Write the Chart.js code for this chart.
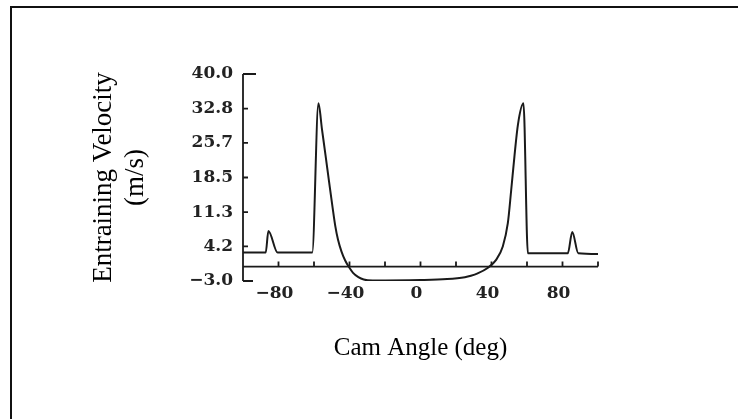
<!DOCTYPE html>
<html>
<head>
<meta charset="utf-8">
<script src="https://cdn.jsdelivr.net/npm/chart.js@4/dist/chart.umd.min.js"></script>
<style>
    body { margin: 0; background: #fff; overflow: hidden; }
    #wrap { position: relative; width: 738px; height: 419px; }
    #frame {
        position: absolute; left: 10px; top: 6px; width: 760px; height: 440px;
        border-left: 2px solid #111; border-top: 2px solid #111;
        pointer-events: none;
    }
</style>
</head>
<body>
<div id="wrap">
    <canvas id="camChart" width="738" height="419"></canvas>
    <div id="frame"></div>
</div>
<script>
// === Data ===
const camAngle = [-100, -87.2, -85.7, -80.5, -61, -57.5, -55.5, -53.5, -51.5, -49.5, -48, -46.5,
    -44.5, -42.5, -40.5, -38, -35, -32, -27, 0, 15, 25, 28.4, 32.2, 37.8, 42.6, 46.3, 49.2,
    51.1, 52.9, 54.9, 58, 60.5, 83, 85.5, 88.9, 100];
const velocity = [2.9, 2.9, 7.4, 2.9, 2.9, 33.9, 28.5, 23.1, 17.6, 12.2, 8.4, 5.6,
    3.1, 1.3, 0, -1.3, -2.2, -2.7, -2.9, -2.8, -2.6, -2.2, -1.9, -1.4, -0.3, 1.4, 4.1, 9.0,
    15.9, 22.8, 29.5, 33.9, 2.75, 2.75, 7.2, 2.75, 2.6];

const xTicks = [-100, -80, -60, -40, -20, 0, 20, 40, 60, 80, 100];
const xLabels = ['', '\u221280', '', '\u221240', '', '0', '', '40', '', '80', ''];
const yTicks = [-3.0, 4.2, 11.3, 18.5, 25.7, 32.8, 40.0];
const yLabels = ['\u22123.0', '4.2', '11.3', '18.5', '25.7', '32.8', '40.0'];

const inkColor = '#1a1a1a';
const tickFont = { family: "'DejaVu Serif', serif", size: 17, weight: 'bold' };
const titleFont = { family: "'Liberation Serif', 'Times New Roman', serif", size: 25 };

// axis line, inner ticks and the zero line with its small ticks
const axisPlugin = {
    id: 'axisLines',
    afterDatasetsDraw(chart) {
        const { ctx, chartArea: a, scales: { x, y } } = chart;
        ctx.save();
        ctx.strokeStyle = inkColor;
        ctx.lineWidth = 1.8;
        ctx.beginPath();
        ctx.moveTo(a.left, a.top);
        ctx.lineTo(a.left, a.bottom);
        y.ticks.forEach((t, i) => {
            const py = y.getPixelForValue(t.value);
            let len = 5;
            if (i === 0) len = 10;
            if (i === y.ticks.length - 1) len = 13;
            ctx.moveTo(a.left, py);
            ctx.lineTo(a.left + len, py);
        });
        const y0 = y.getPixelForValue(0);
        ctx.moveTo(a.left, y0);
        ctx.lineTo(a.right, y0);
        x.ticks.forEach(t => {
            if (t.value <= x.min) return;
            const px = x.getPixelForValue(t.value);
            ctx.moveTo(px, y0);
            ctx.lineTo(px, y0 - 5);
        });
        ctx.stroke();
        ctx.restore();
    }
};

new Chart(document.getElementById('camChart'), {
    type: 'line',
    data: {
        datasets: [{
            data: camAngle.map((a, i) => ({ x: a, y: velocity[i] })),
            borderColor: inkColor,
            borderWidth: 2,
            pointRadius: 0,
            fill: false,
            cubicInterpolationMode: 'monotone'
        }]
    },
    options: {
        responsive: false,
        animation: false,
        layout: { padding: { left: 0, top: 74, right: 140, bottom: 0 } },
        plugins: { legend: { display: false }, tooltip: { enabled: false } },
        scales: {
            x: {
                type: 'linear',
                min: -100,
                max: 100,
                grid: { display: false, drawTicks: false },
                border: { display: false },
                afterBuildTicks: s => { s.ticks = xTicks.map(v => ({ value: v })); },
                afterFit: s => { s.height = 138; },
                ticks: {
                    autoSkip: false,
                    maxRotation: 0,
                    padding: 2,
                    labelOffset: -4,
                    color: '#222',
                    font: tickFont,
                    callback: (v, i) => xLabels[i]
                },
                title: {
                    display: true,
                    text: 'Cam Angle (deg)',
                    color: '#000',
                    font: titleFont,
                    padding: { top: 0, bottom: 56 }
                }
            },
            y: {
                min: -3,
                max: 40,
                grid: { display: false, drawTicks: false },
                border: { display: false },
                afterBuildTicks: s => { s.ticks = yTicks.map(v => ({ value: v })); },
                afterFit: s => { s.width = 243; },
                ticks: {
                    padding: 10,
                    color: '#222',
                    font: tickFont,
                    callback: (v, i) => yLabels[i]
                },
                title: {
                    display: true,
                    text: ['Entraining Velocity', '(m/s)'],
                    color: '#000',
                    font: { ...titleFont, size: 27, lineHeight: 32 / 27 },
                    padding: { top: 88, bottom: 0 }
                }
            }
        }
    },
    plugins: [axisPlugin]
});
</script>
</body>
</html>
